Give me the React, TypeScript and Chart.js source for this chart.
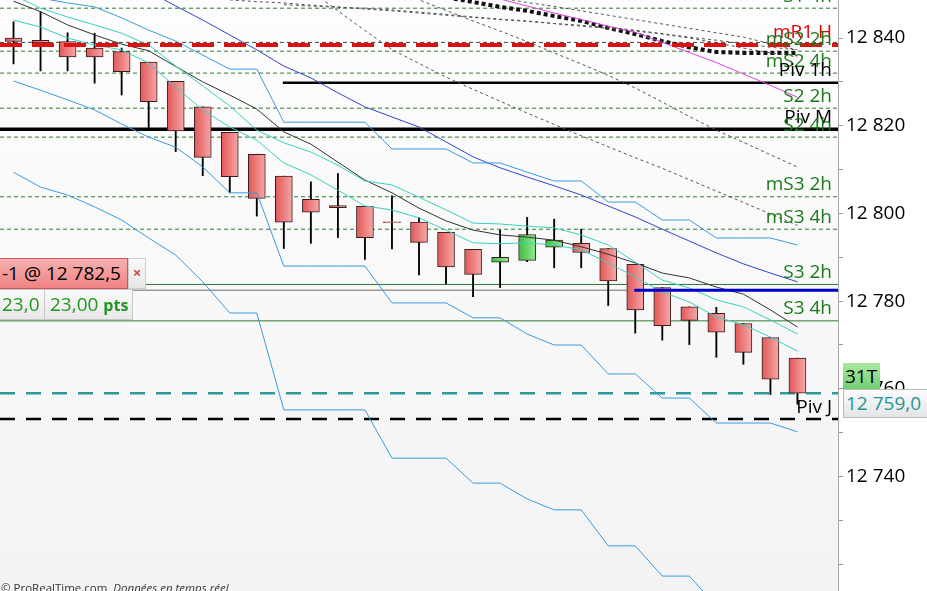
import { useEffect, useRef } from 'react';
import { Chart, registerables } from 'chart.js';

Chart.register(...registerables);

const FONT = '"Open Sans", "DejaVu Sans", sans-serif';

// ---- candles (index 0..29), one empty slot at the right edge ----
const slots = ['1', '2', '3', '4', '5', '6', '7', '8', '9', '10', '11', '12', '13', '14', '15', '16', '17', '18', '19', '20', '21', '22', '23', '24', '25', '26', '27', '28', '29', '30', ''];

const opens = [12840.0, 12839.5, 12839.2, 12837.7, 12836.9, 12834.5, 12830.1, 12824.3, 12818.5, 12813.5, 12808.5, 12803.2, 12801.8, 12801.6, 12798.1, 12798.0, 12795.7, 12791.8, 12788.9, 12789.3, 12792.3, 12793.2, 12792.0, 12788.4, 12783.1, 12778.7, 12777.2, 12774.9, 12771.7, 12767.0];
const highs = [12843.7, 12846.0, 12841.2, 12841.1, 12837.7, 12834.5, 12830.1, 12824.3, 12818.5, 12813.5, 12808.5, 12807.2, 12809.1, 12801.6, 12804.0, 12799.1, 12795.7, 12791.8, 12796.2, 12799.1, 12798.7, 12796.4, 12792.0, 12788.4, 12783.1, 12778.7, 12778.6, 12774.9, 12771.7, 12767.0];
const lows = [12834.1, 12832.5, 12832.5, 12829.7, 12827.0, 12819.4, 12814.1, 12808.6, 12804.7, 12799.4, 12792.0, 12793.2, 12794.5, 12789.5, 12791.9, 12786.0, 12783.9, 12781.0, 12783.1, 12789.0, 12787.6, 12787.6, 12779.0, 12772.7, 12771.1, 12770.1, 12767.2, 12765.6, 12758.7, 12756.5];
const closes = [12839.2, 12838.9, 12835.7, 12835.7, 12832.3, 12825.5, 12818.8, 12812.8, 12808.4, 12803.4, 12798.0, 12800.3, 12801.3, 12794.5, 12797.9, 12793.4, 12787.8, 12786.1, 12790.0, 12795.2, 12793.9, 12791.1, 12784.6, 12778.0, 12774.4, 12775.6, 12772.9, 12768.3, 12762.2, 12759.0];

// ---- indicator lines ----
const maBlack = [12848.4, 12846.0, 12843.0, 12840.7, 12838.6, 12837.1, 12833.5, 12830.0, 12827.0, 12823.8, 12818.6, 12815.8, 12811.7, 12807.6, 12804.7, 12801.2, 12798.3, 12796.2, 12795.1, 12794.6, 12793.9, 12792.4, 12790.7, 12788.7, 12786.4, 12785.3, 12783.2, 12781.6, 12778.0, 12774.1];
const tealUpper = [12849.8, 12846.8, 12844.8, 12843.0, 12841.1, 12838.4, 12833.6, 12829.1, 12824.5, 12819.0, 12816.1, 12814.0, 12811.0, 12807.4, 12806.5, 12803.7, 12800.8, 12797.8, 12797.6, 12797.1, 12796.7, 12795.1, 12792.8, 12788.9, 12784.8, 12783.0, 12780.3, 12778.7, 12775.7, 12772.5];
const tealLower = [12844.1, 12842.5, 12840.0, 12838.4, 12837.3, 12834.3, 12828.8, 12823.6, 12819.7, 12816.7, 12811.5, 12808.8, 12805.3, 12801.7, 12800.8, 12799.0, 12796.2, 12793.3, 12793.1, 12793.3, 12792.8, 12791.7, 12788.7, 12785.5, 12782.1, 12779.8, 12776.4, 12774.6, 12771.8, 12768.6];
const maBlue = [12867.8, 12864.4, 12861.0, 12857.6, 12854.1, 12850.7, 12847.3, 12844.1, 12840.7, 12837.3, 12833.6, 12830.9, 12827.5, 12824.3, 12822.0, 12819.7, 12816.3, 12812.9, 12810.4, 12808.3, 12806.3, 12804.2, 12801.7, 12799.2, 12796.4, 12793.7, 12791.0, 12788.5, 12786.4, 12784.4];
const stepUpper = [12851.4, 12849.1, 12848.0, 12847.1, 12844.6, 12841.8, 12839.3, 12836.1, 12832.9, 12832.9, 12820.8, 12820.8, 12820.8, 12820.8, 12814.7, 12814.7, 12814.7, 12811.5, 12811.5, 12809.4, 12807.4, 12807.4, 12802.6, 12802.6, 12798.5, 12798.5, 12794.4, 12794.4, 12794.4, 12792.8];
const stepMiddle = [12830.2, 12828.1, 12825.9, 12823.6, 12820.4, 12817.4, 12815.1, 12810.6, 12804.7, 12804.7, 12788.0, 12788.0, 12788.0, 12788.0, 12779.6, 12779.6, 12779.6, 12776.2, 12776.2, 12772.5, 12770.0, 12770.0, 12763.4, 12763.4, 12757.9, 12757.9, 12752.2, 12752.2, 12752.2, 12750.2];
const stepLower = [12809.4, 12806.0, 12804.2, 12801.5, 12798.5, 12794.4, 12790.5, 12784.4, 12777.3, 12777.3, 12755.2, 12755.2, 12755.2, 12755.2, 12744.2, 12744.2, 12744.2, 12738.5, 12738.5, 12734.9, 12732.4, 12732.4, 12724.2, 12724.2, 12717.3, 12717.3, 12710.5, 12710.5, 12703.6, 12703.6];

const N = null;
const trendP = [N, N, N, N, N, N, N, N, N, N, N, 12850.7, 12846.2, 12841.7, 12837.4, 12834.2, 12831.1, 12828.3, 12825.6, 12822.9, 12820.3, 12817.7, 12815.2, 12812.7, 12810.3, 12807.7, 12805.1, 12802.5, 12799.9, 12797.3];
const trendQ = [N, N, N, N, N, N, N, N, N, N, N, N, N, 12853.5, 12851.1, 12848.7, 12846.3, 12843.9, 12841.6, 12839.2, 12836.6, 12834.1, 12831.5, 12828.6, 12825.4, 12822.1, 12819.0, 12816.2, 12813.4, 12810.6];
const fanA = [N, N, N, N, N, N, N, N, 12848.7, 12848.3, 12848.0, 12847.5, 12847.1, 12846.6, 12846.2, 12845.7, 12845.2, 12844.7, 12844.2, 12843.8, 12843.3, 12842.9, 12842.4, 12841.8, 12841.0, 12840.2, 12839.5, 12838.7, 12837.9, 12837.3];
const fanB = [N, N, N, N, N, N, N, N, N, N, N, N, N, N, N, N, N, N, 12849.1, 12848.1, 12847.2, 12846.2, 12845.2, 12844.2, 12843.2, 12842.2, 12841.2, 12840.2, 12838.7, 12837.3];
const fanC = [N, N, N, N, N, N, N, N, N, N, 12847.6, 12847.3, 12847.0, 12846.8, 12846.4, 12845.9, 12845.4, 12844.8, 12844.3, 12843.9, 12843.3, 12842.7, 12842.2, 12841.6, 12840.9, 12840.0, 12838.9, 12837.7, 12836.6, 12835.7];
const dottedAvg = [N, N, N, N, N, N, N, N, N, N, N, N, N, N, 12851.5, 12850.4, 12849.3, 12848.2, 12847.1, 12846.2, 12845.0, 12843.9, 12842.3, 12840.9, 12839.3, 12837.9, 12836.8, 12836.6, 12836.6, 12836.6];
const magentaAvg = [N, N, N, N, N, N, N, N, N, N, N, N, N, N, N, N, N, N, 12848.9, 12847.3, 12845.7, 12844.2, 12842.7, 12841.3, 12839.0, 12836.7, 12834.4, 12831.8, 12829.2, 12826.5];

// ---- horizontal levels ----
const levelLabels = ['S1 4h', 'mR1 H', '', 'mS2 2h', 'mS2 4h', 'Piv 1h', 'S2 2h', 'Piv M', 'S2 4h', 'mS3 2h', 'mS3 4h', 'S3 2h', 'S3 4h', 'Piv J'];
const levelValues = [12846.8, 12838.4, 12839.0, 12837.0, 12832.0, 12829.8, 12824.0, 12819.2, 12817.4, 12803.8, 12796.4, 12783.8, 12775.5, 12753.1];
const levelKinds = ['gdash', 'rdash', 'kthin', 'gdash', 'gdash', 'ksolid2', 'gdash', 'ksolid', 'gdash', 'gdash', 'gdash', 'gsolid', 'gsolid', 'kdash'];
const levelStartIndex = [null, null, null, null, null, 10, null, null, null, null, null, null, null, null];

const orderPrice = 12782.5;
const positionStartIndex = 23;
const lastPrice = 12759.0;

const Y_MIN = 12713.9;
const Y_MAX = 12848.67;

const STYLES: Record<string, { color: string; width: number; dash: number[]; text: string }> = {
  gdash: { color: '#2f7a2f', width: 1, dash: [4, 3], text: '#1a7a1a' },
  gsolid: { color: '#2f7a2f', width: 1, dash: [], text: '#1a7a1a' },
  rdash: { color: '#e01010', width: 4, dash: [22, 10], text: '#e00000' },
  kthin: { color: '#444', width: 1, dash: [4, 3], text: '#000' },
  ksolid: { color: '#000', width: 3.5, dash: [], text: '#000' },
  ksolid2: { color: '#000', width: 2.5, dash: [], text: '#000' },
  kdash: { color: '#000', width: 2.5, dash: [15, 11], text: '#000' },
};

function fmt(v: number) {
  return String(Math.round(v)).replace(/\B(?=(\d{3})+(?!\d))/g, ' ');
}

function hline(chart: any, value: number, color: string, width: number, dash: number[], fromIndex: number | null) {
  const { ctx, chartArea: a, scales } = chart;
  const y = scales.y.getPixelForValue(value);
  const x0 = fromIndex == null ? a.left : scales.x.getPixelForValue(fromIndex) - 1;
  ctx.save();
  ctx.beginPath();
  ctx.rect(a.left, a.top, a.right - a.left, a.bottom - a.top);
  ctx.clip();
  ctx.strokeStyle = color;
  ctx.lineWidth = width;
  ctx.setLineDash(dash);
  ctx.beginPath();
  ctx.moveTo(x0, y);
  ctx.lineTo(a.right, y);
  ctx.stroke();
  ctx.restore();
}

const levelsPlugin = {
  id: 'levels',
  beforeDraw(chart: any) {
    const { ctx, chartArea: a } = chart;
    const g = ctx.createLinearGradient(0, a.top, 0, a.bottom);
    g.addColorStop(0, '#fdfdfd');
    g.addColorStop(1, '#f3f3f3');
    ctx.save();
    ctx.fillStyle = g;
    ctx.fillRect(a.left, a.top, a.right - a.left, a.bottom - a.top);
    ctx.restore();
  },
  beforeDatasetsDraw(chart: any) {
    levelValues.forEach((v, i) => {
      const k = levelKinds[i];
      if (k === 'rdash') return;
      const s = STYLES[k];
      hline(chart, v, s.color, s.width, s.dash, levelStartIndex[i]);
    });
    hline(chart, orderPrice, '#9a9a9a', 1.5, [], null);
    hline(chart, lastPrice, '#2a9a9a', 2.5, [15, 11], null);
  },
  afterDatasetsDraw(chart: any) {
    levelValues.forEach((v, i) => {
      const k = levelKinds[i];
      if (k !== 'rdash') return;
      const s = STYLES[k];
      hline(chart, v, s.color, s.width, s.dash, levelStartIndex[i]);
    });
    hline(chart, orderPrice, '#0000cc', 3, [], positionStartIndex);
    const { ctx, chartArea: a, scales } = chart;
    ctx.save();
    ctx.beginPath();
    ctx.rect(a.left, a.top, a.right - a.left, a.bottom - a.top);
    ctx.clip();
    ctx.font = `19px ${FONT}`;
    ctx.textAlign = 'right';
    ctx.textBaseline = 'middle';
    levelValues.forEach((v, i) => {
      if (!levelLabels[i]) return;
      ctx.fillStyle = STYLES[levelKinds[i]].text;
      ctx.fillText(levelLabels[i], a.right - 6, scales.y.getPixelForValue(v) - 12);
    });
    ctx.restore();
  },
};

function bodyColor(c: any) {
  const i = c.dataIndex;
  const up = i != null && closes[i] > opens[i];
  const chart = c.chart;
  const xs = chart && chart.scales && chart.scales.x;
  if (c.type !== 'data' || !xs || !chart.chartArea) return up ? '#5fd35f' : '#ee7c7c';
  const x = xs.getPixelForValue(i);
  const g = chart.ctx.createLinearGradient(x - 8, 0, x + 8, 0);
  if (up) {
    g.addColorStop(0, '#3fc03f');
    g.addColorStop(1, '#8fe88f');
  } else {
    g.addColorStop(0, '#e25a5a');
    g.addColorStop(1, '#f5a5a5');
  }
  return g;
}

function line(label: string, data: (number | null)[], color: string, width = 1, dash: number[] = []) {
  return {
    type: 'line' as const,
    label,
    data,
    borderColor: color,
    borderWidth: width,
    borderDash: dash,
    pointRadius: 0,
    tension: 0,
    fill: false,
    spanGaps: false,
    order: 1,
  };
}

export default function App() {
  const ref = useRef<HTMLCanvasElement>(null);

  useEffect(() => {
    const chart = new Chart(ref.current as HTMLCanvasElement, {
      type: 'bar',
      data: {
        labels: slots,
        datasets: [
          {
            type: 'bar',
            label: 'wick',
            data: lows.map((l, i) => [l, highs[i]]),
            backgroundColor: '#000',
            barThickness: 1.2,
            grouped: false,
            order: 3,
          } as any,
          {
            type: 'bar',
            label: 'body',
            data: opens.map((o, i) => [o, closes[i]]),
            backgroundColor: bodyColor,
            borderColor: '#3a1e1e',
            borderWidth: 1,
            borderSkipped: false,
            barThickness: 17,
            grouped: false,
            order: 2,
          } as any,
          line('stepLower', stepLower, '#3a9be0'),
          line('stepMiddle', stepMiddle, '#3a9be0'),
          line('stepUpper', stepUpper, '#3a9be0'),
          line('maBlue', maBlue, '#3344cc'),
          line('tealLower', tealLower, '#3ccfc2'),
          line('tealUpper', tealUpper, '#3ccfc2'),
          line('maBlack', maBlack, '#333333'),
          line('trendP', trendP, '#555555', 1, [3, 3]),
          line('trendQ', trendQ, '#555555', 1, [3, 3]),
          line('fanA', fanA, '#555555', 1, [3, 3]),
          line('fanB', fanB, '#555555', 1, [3, 3]),
          line('fanC', fanC, '#555555', 1, [3, 3]),
          line('magenta', magentaAvg, '#dd44dd', 1),
          line('dotted', dottedAvg, '#111111', 4, [4, 3]),
        ] as any,
      },
      options: {
        responsive: false,
        animation: false,
        layout: { padding: 0 },
        plugins: { legend: { display: false }, tooltip: { enabled: false } },
        scales: {
          x: {
            type: 'category',
            display: false,
            offset: true,
            grid: { display: false },
          },
          y: {
            position: 'right',
            min: Y_MIN,
            max: Y_MAX,
            ticks: {
              stepSize: 10,
              includeBounds: false,
              autoSkip: false,
              padding: 3,
              color: '#000',
              font: { family: FONT, size: 19 },
              callback: (v: any) => (Number(v) % 20 === 0 && Number(v) > 12730 ? fmt(Number(v)) : ''),
            },
            grid: { drawOnChartArea: false, tickLength: 5, color: '#999' },
            border: { display: true, color: '#aaa', width: 1 },
            afterFit: (s: any) => {
              s.width = 89;
              s.paddingTop = 0;
              s.paddingBottom = 0;
            },
          } as any,
        },
      },
      plugins: [levelsPlugin],
    });
    return () => chart.destroy();
  }, []);

  const cell: any = {
    position: 'absolute',
    boxSizing: 'border-box',
    whiteSpace: 'nowrap',
    fontSize: 19,
    overflow: 'hidden',
  };

  return (
    <div style={{ position: 'fixed', left: 0, top: 0, width: 927, height: 591, overflow: 'hidden', background: '#fff', fontFamily: FONT }}>
      <canvas ref={ref} width={927} height={591} style={{ display: 'block', width: 927, height: 591 }} />
      {/* order ticket */}
      <div style={{ ...cell, left: -4, top: 258, width: 132, height: 31, background: 'linear-gradient(#f8b0b0, #ef8383)', border: '1px solid #c55', color: '#000', lineHeight: '29px', paddingLeft: 5 }}>-1 @ 12 782,5</div>
      <div style={{ ...cell, left: 128, top: 258, width: 18, height: 31, background: 'linear-gradient(#fafafa, #e6e6e6)', border: '1px solid #ccc', color: '#d04848', fontSize: 15, fontWeight: 700, lineHeight: '27px', textAlign: 'center' }}>×</div>
      <div style={{ ...cell, left: -4, top: 289, width: 49, height: 31, background: 'linear-gradient(#fafafa, #e8e8e8)', border: '1px solid #c8c8c8', color: '#1f961f', lineHeight: '29px', paddingLeft: 5 }}>23,0</div>
      <div style={{ ...cell, left: 44, top: 289, width: 89, height: 31, background: 'linear-gradient(#fafafa, #e8e8e8)', border: '1px solid #c8c8c8', color: '#1f961f', lineHeight: '29px', paddingLeft: 5 }}>
        23,00 <span style={{ fontSize: 16, fontWeight: 700 }}>pts</span>
      </div>
      {/* right side boxes */}
      <div style={{ ...cell, left: 843, top: 363, width: 37, height: 27, background: 'linear-gradient(#a8e8a2, #6fcf6f)', color: '#000', lineHeight: '27px', paddingLeft: 2 }}>31T</div>
      <div style={{ ...cell, left: 843, top: 389, width: 90, height: 29, background: 'linear-gradient(#fcfcfc, #e4e4e4)', border: '1px solid #bbb', color: '#1e9696', lineHeight: '27px', paddingLeft: 2 }}>12 759,0</div>
      {/* copyright */}
      <div style={{ position: 'absolute', left: 1, top: 580, fontSize: 11.5, lineHeight: '15px', color: '#333', whiteSpace: 'nowrap' }}>
        © ProRealTime.com&nbsp; <i>Données en temps réel</i>
      </div>
    </div>
  );
}
